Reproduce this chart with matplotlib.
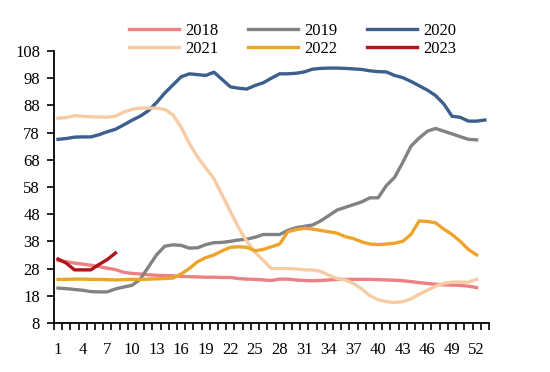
import numpy as np
import matplotlib
matplotlib.use("Agg")
import matplotlib.pyplot as plt
from matplotlib.ticker import FixedLocator, NullFormatter

plt.rcParams['font.family'] = ['Liberation Serif', 'DejaVu Serif']
plt.rcParams['font.size'] = 12

# weekly series
y2018 = [31, 30.5, 30, 29.6, 29.2, 28.7, 28.1, 27.6, 26.6, 26.2, 26, 25.7, 25.5, 25.4, 25.3,
         25.1, 25, 24.9, 24.8, 24.8, 24.7, 24.7, 24.3, 24.1, 24, 23.8, 23.6, 24.1, 24.1, 23.8,
         23.6, 23.5, 23.6, 23.8, 24, 24, 24, 24, 24, 23.9, 23.8, 23.7, 23.5, 23.2, 22.8, 22.5,
         22.2, 22, 21.9, 21.8, 21.5, 21]
y2019 = [20.8, 20.6, 20.3, 20, 19.5, 19.4, 19.4, 20.5, 21.2, 21.8, 24, 28.5, 33, 36.2, 36.7,
         36.5, 35.5, 35.6, 36.8, 37.5, 37.6, 38, 38.5, 38.8, 39.5, 40.5, 40.5, 40.5, 42, 43,
         43.5, 44, 45.5, 47.5, 49.5, 50.5, 51.5, 52.5, 54, 54, 58.5, 61.5, 67, 73, 76, 78.5,
         79.5, 78.5, 77.5, 76.5, 75.5, 75.3]
y2020 = [75.5, 75.8, 76.3, 76.4, 76.4, 77.2, 78.3, 79.2, 80.8, 82.5, 84, 86, 89, 92.5, 95.5,
         98.5, 99.6, 99.3, 99, 100.2, 97.5, 94.8, 94.3, 94, 95.3, 96.3, 98, 99.6, 99.6, 99.8,
         100.3, 101.3, 101.6, 101.7, 101.7, 101.6, 101.4, 101.2, 100.7, 100.4, 100.3, 99,
         98.2, 96.8, 95.2, 93.6, 91.6, 88.5, 84, 83.6, 82.2, 82.2, 82.6]
y2021 = [83.3, 83.5, 84.2, 84, 83.8, 83.7, 83.7, 84, 85.5, 86.5, 87, 87, 87, 86.5, 84.5,
         80, 74, 69, 65, 61, 55, 49, 43, 38, 34, 31, 28, 28, 28, 27.8, 27.5, 27.5, 27, 25.5,
         24.3, 23.8, 22.5, 20.5, 18, 16.5, 15.8, 15.5, 15.8, 16.8, 18.5, 20, 21.5, 22.5, 23,
         23, 23, 24]
y2022 = [24, 24, 24.1, 24.1, 24, 24, 23.9, 23.8, 23.9, 24, 24, 24.1, 24.2, 24.3, 24.5,
         26, 28, 30.5, 32, 33, 34.5, 35.8, 36, 35.8, 34.5, 35, 36, 37, 41.5, 42.3, 42.8, 42.5,
         42, 41.5, 41, 39.7, 39, 37.8, 37, 36.8, 37, 37.3, 38, 40.5, 45.5, 45.3, 44.8, 42.5,
         40.5, 38, 35, 33]
y2023 = [31.5, 30, 27.5, 27.5, 27.5, 29.5, 31.3, 33.7]

years = ['2018', '2019', '2020', '2021', '2022', '2023']
colors = ['#EE8084', '#828282', '#3C5F8E', '#F7CBA3', '#EEA42B', '#B3131B']
xticks = list(range(1, 53, 3))

fig = plt.figure(figsize=(5.5, 3.72), dpi=100)
ax = fig.add_axes([0.098, 0.132, 0.791, 0.731])

lines = {}
for yr, vals, c in zip(years, [y2018, y2019, y2020, y2021, y2022, y2023], colors):
    wk = np.arange(1, len(vals) + 1)
    ln, = ax.plot(wk, vals, color=c, lw=2.4, label=yr, solid_joinstyle='round')
    lines[yr] = ln

ax.set_xlim(0.5, 53.5)
ax.set_ylim(8, 108)
ax.set_yticks(np.arange(8, 109, 10))
ax.set_xticks(xticks)
ax.tick_params(axis='x', which='major', length=0, pad=14)
ax.xaxis.set_minor_locator(FixedLocator(np.arange(0.5, 54, 1)))
ax.xaxis.set_minor_formatter(NullFormatter())
ax.tick_params(axis='x', which='minor', length=5, width=1.2, direction='out', color='black')
ax.tick_params(axis='y', length=5, width=1.2, direction='out', pad=5)

for s in ['top', 'right']:
    ax.spines[s].set_visible(False)
for s in ['left', 'bottom']:
    ax.spines[s].set_linewidth(1.3)
    ax.spines[s].set_color('black')

order = ['2018', '2021', '2019', '2022', '2020', '2023']
fig.legend([lines[k] for k in order], order, loc='center', ncol=3,
           bbox_to_anchor=(0.532, 0.893), frameon=False, handlelength=3.0,
           handletextpad=0.35, columnspacing=1.8, labelspacing=0.1, fontsize=12)

fig.savefig('out.png', dpi=100)
